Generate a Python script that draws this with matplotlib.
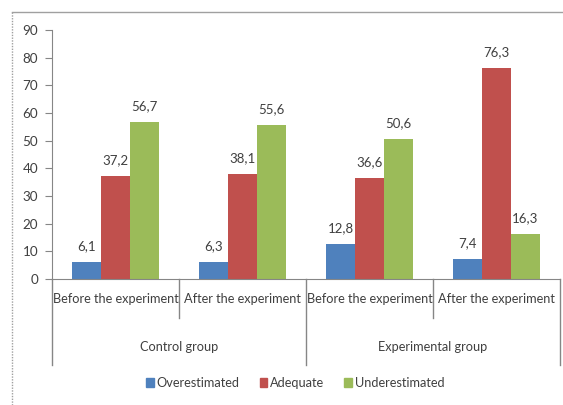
import matplotlib.pyplot as plt
from matplotlib.lines import Line2D
from matplotlib.patches import Patch
import numpy as np

categories = ["Before the experiment", "After the experiment",
              "Before the experiment", "After the experiment"]
groups = ["Control group", "Experimental group"]
series = ["Overestimated", "Adequate", "Underestimated"]
overestimated = [6.1, 6.3, 12.8, 7.4]
adequate = [37.2, 38.1, 36.6, 76.3]
underestimated = [56.7, 55.6, 50.6, 16.3]
colors = ["#4F81BD", "#C0504D", "#9BBB59"]

plt.rcParams['font.family'] = ['Lato', 'DejaVu Sans']
txt = "#404040"
axc = "#868686"
fs = 9.2

W, H = 563, 405
fig = plt.figure(figsize=(W / 100, H / 100), dpi=100)
ax = fig.add_axes([52 / W, 1 - 279 / H, (560 - 52) / W, (279 - 30) / H])

x = np.arange(len(categories))
bw = 0.226
for i, (vals, c) in enumerate(zip([overestimated, adequate, underestimated], colors)):
    pos = x + (i - 1) * bw
    ax.bar(pos, vals, width=bw, color=c)
    for p, v in zip(pos, vals):
        ax.annotate(f"{v:.1f}".replace(".", ","), (p, v), xytext=(0, 7),
                    textcoords="offset points", ha="center", va="bottom",
                    fontsize=fs + 0.3, color=txt)

ax.set_xlim(-0.5, len(categories) - 0.5)
ax.set_ylim(0, 90)
ax.set_yticks(range(0, 91, 10))
ax.tick_params(axis="y", colors=axc, labelcolor=txt, labelsize=fs + 0.5, length=5, pad=5)
ax.set_xticks([])
for s in ["top", "right"]:
    ax.spines[s].set_visible(False)
ax.spines["left"].set_color(axc)
ax.spines["bottom"].set_color(axc)

# multi-level category axis
def fx(px):
    return px / W

def fy(py):
    return 1 - py / H

tr = ax.get_xaxis_transform()
for b in [0.5, 2.5]:
    ax.add_line(Line2D([b, b], [0, -(318 - 279) / 249], transform=tr,
                       color=axc, lw=1, clip_on=False))
for b in [-0.5, 1.5, 3.5]:
    ax.add_line(Line2D([b, b], [0, -(365 - 279) / 249], transform=tr,
                       color=axc, lw=1, clip_on=False))
for xi, lab in zip(x, categories):
    ax.text(xi, -(299 - 279) / 249, lab, transform=tr, ha="center", va="center",
            fontsize=fs, color=txt)
for gi, lab in enumerate(groups):
    ax.text(0.5 + 2 * gi, -(347 - 279) / 249, lab, transform=tr, ha="center",
            va="center", fontsize=fs, color=txt)

handles = [Patch(color=c, label=s) for c, s in zip(colors, series)]
leg = fig.legend(handles=handles, loc="center", bbox_to_anchor=(fx(295), fy(383)),
                 ncol=3, frameon=False, fontsize=fs, handlelength=0.6,
                 handleheight=0.6, handletextpad=0.2, columnspacing=1.6)
for t in leg.get_texts():
    t.set_color(txt)

# outer chart frame
fig.add_artist(Line2D([fx(12), fx(563)], [fy(12), fy(12)], color="#a0a0a0", lw=1))
fig.add_artist(Line2D([fx(12), fx(12)], [fy(12), 0], color="#a0a0a0", lw=1,
                      linestyle=(0, (1, 1))))

fig.savefig("out.png", dpi=100)
